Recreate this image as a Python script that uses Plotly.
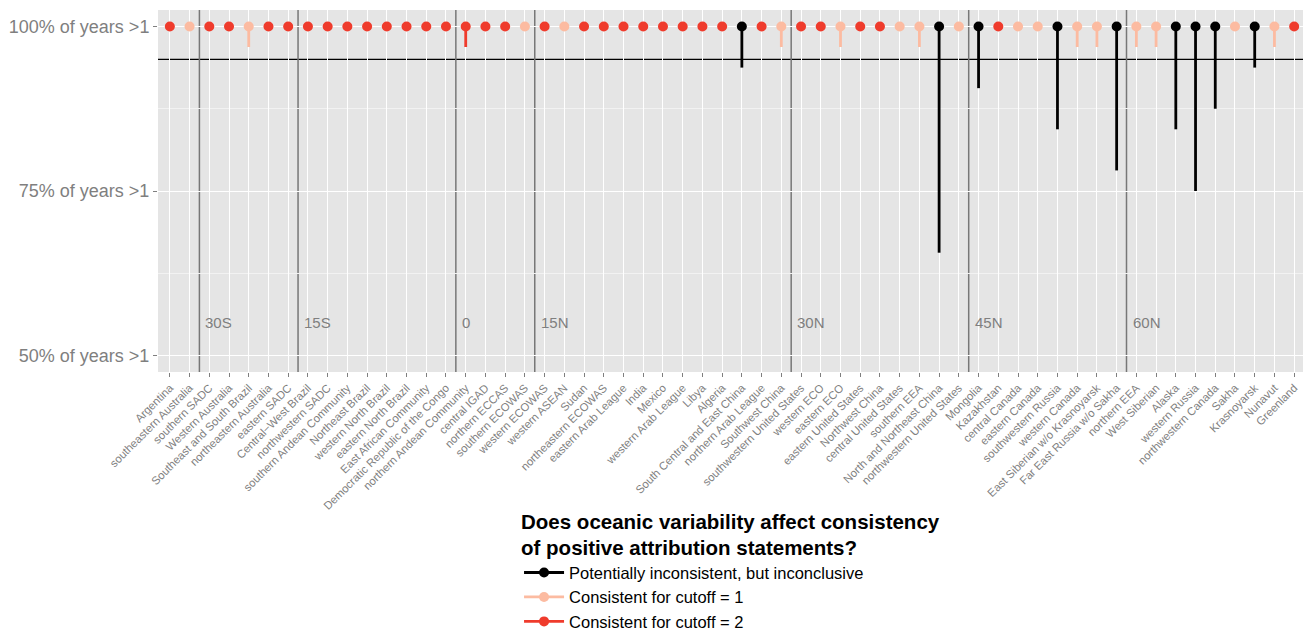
import plotly.graph_objects as go

categories = [
    "Argentina", "southeastern Australia", "southern SADC", "Western Australia",
    "Southeast and South Brazil", "northeastern Australia", "eastern SADC",
    "Central\u2212West Brazil", "northwestern SADC", "southern Andean Community",
    "Northeast Brazil", "western North Brazil", "eastern North Brazil",
    "East African Community", "Democratic Republic of the Congo",
    "northern Andean Community", "central IGAD", "northern ECCAS", "southern ECOWAS",
    "western ECOWAS", "western ASEAN", "Sudan", "northeastern ECOWAS",
    "eastern Arab League", "India", "Mexico", "western Arab League", "Libya", "Algeria",
    "South Central and East China", "northern Arab League", "Southwest China",
    "southwestern United States", "western ECO", "eastern ECO", "eastern United States",
    "Northwest China", "central United States", "southern EEA",
    "North and Northeast China", "northwestern United States", "Mongolia",
    "Kazakhstan", "central Canada", "eastern Canada", "southwestern Russia",
    "western Canada", "East Siberian w/o Krasnoyarsk", "Far East Russia w/o Sakha",
    "northern EEA", "West Siberian", "Alaska", "western Russia", "northwestern Canada",
    "Sakha", "Krasnoyarsk", "Nunavut", "Greenland",
]

# B = potentially inconsistent, L = consistent cutoff 1, R = consistent cutoff 2
group = [
    "R", "L", "R", "R", "L", "R", "R", "R", "R", "R",
    "R", "R", "R", "R", "R", "R", "R", "R", "L", "R",
    "L", "R", "R", "R", "R", "R", "R", "R", "R", "B",
    "R", "L", "R", "R", "L", "R", "R", "L", "L", "B",
    "L", "B", "R", "L", "L", "B", "L", "L", "B", "L",
    "L", "B", "B", "B", "L", "B", "L", "R",
]

# upper end (point) and lower end (stem) in % of years > 1
upper = [100.0] * 58
lower = [
    100, 100, 100, 100, 96.875, 100, 100, 100, 100, 100,
    100, 100, 100, 100, 100, 96.875, 100, 100, 100, 100,
    100, 100, 100, 100, 100, 100, 100, 100, 100, 93.75,
    100, 96.875, 100, 100, 96.875, 100, 100, 100, 96.875, 65.625,
    100, 90.625, 100, 100, 100, 84.375, 96.875, 96.875, 78.125, 96.875,
    96.875, 84.375, 75.0, 87.5, 100, 93.75, 96.875, 100,
]

lat_labels = ["30S", "15S", "0", "15N", "30N", "45N", "60N"]
lat_after = ["southeastern Australia", "eastern SADC", "Democratic Republic of the Congo",
             "southern ECOWAS", "Southwest China", "northwestern United States",
             "Far East Russia w/o Sakha"]

threshold = 95.0
y_tickvals = [50, 75, 100]
y_ticktext = ["50% of years >1", "75% of years >1", "100% of years >1"]

groups = [
    ("B", "Potentially inconsistent, but inconclusive", "#000000"),
    ("L", "Consistent for cutoff = 1", "#FCBBA1"),
    ("R", "Consistent for cutoff = 2", "#EF3B2C"),
]

fig = go.Figure()
for key, name, color in groups:
    idx = [i for i, g in enumerate(group) if g == key]
    sx, sy = [], []
    for i in idx:
        if lower[i] < upper[i]:
            sx += [categories[i], categories[i], None]
            sy += [upper[i], lower[i], None]
    fig.add_trace(go.Scatter(x=sx, y=sy, mode="lines", line=dict(color=color, width=2.8),
                             showlegend=False, legendgroup=key, hoverinfo="skip"))
    px, py = [], []
    for i in idx:
        px += [categories[i], None]
        py += [upper[i], None]
    fig.add_trace(go.Scatter(x=px, y=py, mode="lines+markers", name=name, legendgroup=key,
                             connectgaps=False,
                             line=dict(color=color, width=2.8),
                             marker=dict(color=color, size=10)))

shapes = [dict(type="line", xref="paper", x0=0, x1=1, yref="y", y0=threshold, y1=threshold,
               line=dict(color="black", width=1.2), layer="between")]
annotations = []
for lab, after in zip(lat_labels, lat_after):
    pos = categories.index(after) + 0.5
    shapes.append(dict(type="line", xref="x", x0=pos, x1=pos, yref="paper", y0=0, y1=1,
                       line=dict(color="#777777", width=1.5), layer="between"))
    annotations.append(dict(x=pos, y=55, xref="x", yref="y", text=lab, showarrow=False,
                            xanchor="left", xshift=4,
                            font=dict(size=15, color="#7F7F7F")))

# the page body adds an 8px offset, so the figure is 8px smaller than the window
fig.update_layout(
    width=1303, height=626,
    margin=dict(l=150, r=5, t=2, b=262, autoexpand=False),
    paper_bgcolor="white", plot_bgcolor="#E5E5E5",
    font=dict(family="Liberation Sans, Arial, sans-serif", color="#7F7F7F"),
    shapes=shapes, annotations=annotations,
    xaxis=dict(type="category", categoryorder="array", categoryarray=categories,
               range=[-0.6, 57.6], tickangle=-45, tickfont=dict(size=11.3, color="#7F7F7F"),
               showgrid=True, gridcolor="white", gridwidth=1.2, automargin=False,
               ticks="outside", ticklen=4, tickcolor="#7F7F7F", showline=False, zeroline=False),
    yaxis=dict(range=[47.5, 102.5], tickvals=y_tickvals, ticktext=y_ticktext,
               tickfont=dict(size=18, color="#7F7F7F"), automargin=False,
               showgrid=True, gridcolor="white", gridwidth=1.2,
               minor=dict(tickvals=[62.5, 87.5], showgrid=True, gridcolor="#F2F2F2", gridwidth=0.6),
               ticks="outside", ticklen=4, tickcolor="#7F7F7F", zeroline=False),
    legend=dict(x=0.3145, y=-0.359, xanchor="left", yanchor="top", orientation="v",
                title=dict(text="<b>Does oceanic variability affect consistency<br>of positive attribution statements?</b>",
                           font=dict(size=20.5, color="black"), side="top"),
                font=dict(size=16.5, color="black"), itemwidth=40, tracegroupgap=0,
                bgcolor="rgba(0,0,0,0)"),
)

fig.write_html("out.html")
